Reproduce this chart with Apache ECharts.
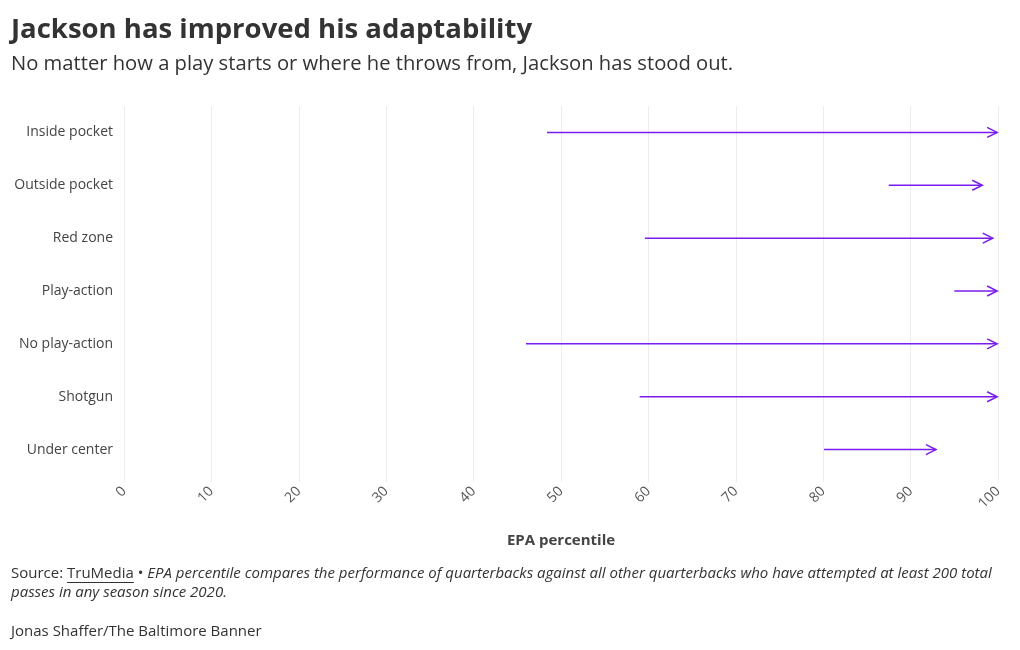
<!DOCTYPE html>
<html><head><meta charset="utf-8">
<script src="https://cdn.jsdelivr.net/npm/echarts@6/dist/echarts.min.js"></script>
<style>html,body{margin:0;padding:0;background:#fff}#c{width:1020px;height:650px}</style>
</head><body><div id="c"></div>
<script>
const categories = ['Inside pocket','Outside pocket','Red zone','Play-action','No play-action','Shotgun','Under center'];
const before = [48.4, 87.5, 59.6, 95.0, 46.0, 59.0, 80.1];
const after = [99.9, 98.2, 99.4, 99.9, 99.9, 99.9, 92.9];
const xTicks = [0,10,20,30,40,50,60,70,80,90,100];

const color = '#7a1cf0';
const font = '"Open Sans", "Noto Sans", sans-serif';
const footSize = 15;
const data = categories.map((c,i)=>[before[i], after[i], c]);

// measure text for underline placement
const cv = document.createElement('canvas').getContext('2d');
cv.font = footSize + 'px ' + font;
const srcW = cv.measureText('Source: ').width;
const tmW = cv.measureText('TruMedia').width;

const chart = echarts.init(document.getElementById('c'));
chart.setOption({
  animation:false,
  title:[
    {text:'Jackson has improved his adaptability', left:6, top:11,
     textStyle:{fontFamily:font, fontWeight:'bold', fontSize:27.5, color:'#333'}},
    {text:'No matter how a play starts or where he throws from, Jackson has stood out.', left:6, top:49,
     textStyle:{fontFamily:font, fontWeight:'normal', fontSize:20.2, color:'#333'}}
  ],
  grid:{left:124, right:22, top:106, bottom:174, containLabel:false},
  xAxis:{type:'value', min:0, max:100, interval:10,
    name:'EPA percentile', nameLocation:'middle', nameGap:57,
    nameTextStyle:{fontFamily:font, fontWeight:'bold', fontSize:15, color:'#444'},
    axisLine:{show:false}, axisTick:{show:true, length:6, lineStyle:{color:'#ececec'}},
    splitLine:{show:true, lineStyle:{color:'#ececec'}},
    axisLabel:{rotate:45, margin:13, fontFamily:font, fontSize:14, color:'#555',
      formatter:v=>xTicks.includes(v)?String(v):''}
  },
  yAxis:{type:'category', data:categories, inverse:true,
    axisLine:{show:false}, axisTick:{show:false}, splitLine:{show:false},
    axisLabel:{margin:11, fontFamily:font, fontSize:14, color:'#444'}
  },
  series:[{
    type:'custom',
    data:data,
    encode:{x:[0,1], y:2},
    renderItem:function(params, api){
      const y = api.value(2);
      const p0 = api.coord([api.value(0), y]);
      const p1 = api.coord([api.value(1), y]);
      return {type:'group', children:[
        {type:'line', shape:{x1:p0[0], y1:p0[1], x2:p1[0], y2:p1[1]},
         style:{stroke:color, lineWidth:1.5}},
        {type:'polyline', shape:{points:[[p1[0]-10,p1[1]-5],[p1[0],p1[1]],[p1[0]-10,p1[1]+5]]},
         style:{stroke:color, lineWidth:1.5, fill:null}}
      ]};
    }
  }],
  graphic:[
    {type:'text', left:11, top:566, style:{
      text:'{n|Source: }{u|TruMedia}{n| • }{i|EPA percentile compares the performance of quarterbacks against all other quarterbacks who have attempted at least 200 total}',
      rich:{n:{fontFamily:font, fontSize:footSize, fill:'#333'}, u:{fontFamily:font, fontSize:footSize, fill:'#333'},
            i:{fontFamily:font, fontSize:footSize, fill:'#333', fontStyle:'italic'}}}},
    {type:'text', left:11, top:585, style:{text:'passes in any season since 2020.',
      fontFamily:font, fontSize:footSize, fill:'#333', fontStyle:'italic'}},
    {type:'rect', left:11 + srcW, top:582, shape:{width:tmW, height:1}, style:{fill:'#333'}},
    {type:'text', left:11, top:624, style:{text:'Jonas Shaffer/The Baltimore Banner',
      fontFamily:font, fontSize:footSize, fill:'#333'}}
  ]
});
</script></body></html>
